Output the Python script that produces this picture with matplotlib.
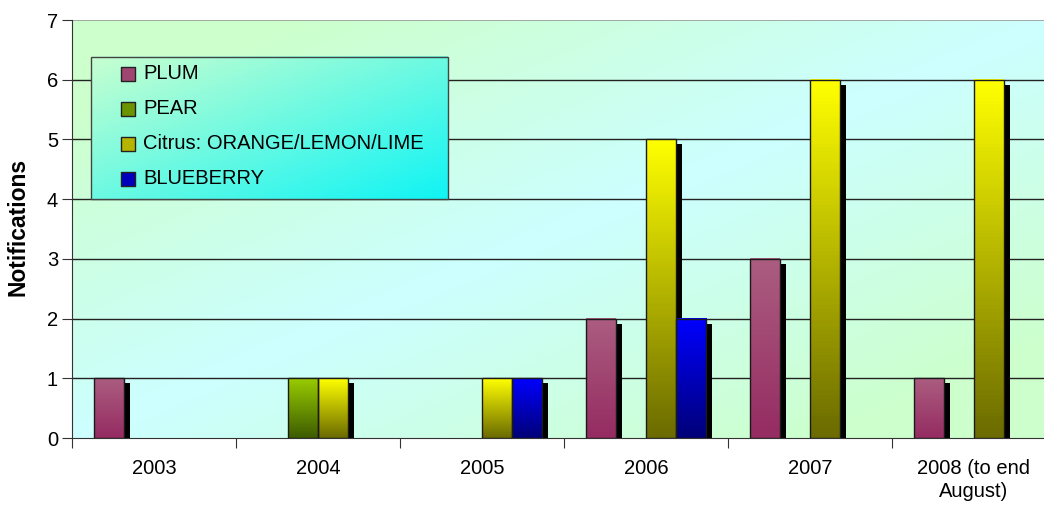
import numpy as np
import matplotlib
matplotlib.use("Agg")
import matplotlib.pyplot as plt
from matplotlib.colors import LinearSegmentedColormap, to_rgb
from matplotlib.patches import Rectangle
from matplotlib.transforms import offset_copy

plt.rcParams.update({"font.family": ["Liberation Sans", "DejaVu Sans"], "font.size": 14})

categories = ["2003", "2004", "2005", "2006", "2007", "2008 (to end\nAugust)"]
series_names = ["PLUM", "PEAR", "Citrus: ORANGE/LEMON/LIME", "BLUEBERRY"]
plum = [1, 0, 0, 2, 3, 1]
pear = [0, 1, 0, 0, 0, 0]
citrus = [0, 1, 1, 5, 6, 6]
blueberry = [0, 0, 1, 2, 0, 0]
values = [plum, pear, citrus, blueberry]

# (top colour, bottom colour) of each series' vertical gradient
grads = [("#ab5d80", "#952c62"), ("#99cc00", "#3d5c00"),
         ("#ffff00", "#6b6b00"), ("#0000ff", "#000078")]

fig = plt.figure(figsize=(10.44, 5.09), dpi=100)
# plot area runs a little past the right edge of the picture, as in the original
ax = fig.add_axes([72 / 1044, 71 / 509, 984 / 1044, 418 / 509])

# plot-area background: green corners, cyan diagonal band
gx, gy = np.meshgrid(np.linspace(0, 1, 300), np.linspace(1, 0, 200))
t = np.clip(np.abs(gx - gy) * 1.3, 0, 1)[..., None]
bg = (1 - t) * np.array(to_rgb("#ccffff")) + t * np.array(to_rgb("#ccffcc"))
ax.imshow(bg, extent=(0, 1, 0, 1), transform=ax.transAxes, aspect="auto", zorder=0)

for yv in range(1, 7):
    ax.axhline(yv, color="#222222", lw=1.0, zorder=1)
ax.axhline(7, color="#999999", lw=1.2, zorder=1)

w = 30 / 164
shadow_tr = offset_copy(ax.transData, fig=fig, x=6, y=-5, units="dots")
for s, (vals, (ctop, cbot)) in enumerate(zip(values, grads)):
    cmap = LinearSegmentedColormap.from_list(f"g{s}", [cbot, ctop])
    for i, v in enumerate(vals):
        if v == 0:
            continue
        x0 = i + 0.5 - 2 * w + s * w
        ax.add_patch(Rectangle((x0, 0), w, v, transform=shadow_tr,
                               fc="black", ec="none", zorder=2))
        ax.imshow(np.linspace(1, 0, 100)[:, None], cmap=cmap, vmin=0, vmax=1,
                  extent=(x0, x0 + w, 0, v), aspect="auto", zorder=3)
        ax.add_patch(Rectangle((x0, 0), w, v, fc="none", ec="#1a1a1a",
                               lw=1.0, zorder=4))

ax.set_xlim(0, len(categories))
ax.set_ylim(0, 7)

# axes styling
for side in ["top", "right"]:
    ax.spines[side].set_visible(False)
ax.spines["left"].set_color("#333333")
ax.spines["bottom"].set_color("#333333")

ax.set_yticks(range(0, 8))
ax.tick_params(axis="y", direction="out", length=7, labelsize=14.5, pad=3,
               color="#333333")
ax.set_xticks(range(0, len(categories) + 1))
ax.set_xticklabels([])
ax.tick_params(axis="x", which="major", direction="out", length=7, color="#333333")
ax.set_xticks([i + 0.5 for i in range(len(categories))], minor=True)
ax.set_xticklabels(categories, minor=True, fontsize=14.5, linespacing=1.3)
ax.tick_params(axis="x", which="minor", length=0, pad=15)
fig.text(18 / 1044, 1 - 227 / 509, "Notifications", rotation=90, ha="center",
         va="center", fontsize=16.5, fontweight="bold")

# legend box with diagonal gradient
lx0, lx1, ly0, ly1 = 0.0193, 0.382, 0.572, 0.912
lgx, lgy = np.meshgrid(np.linspace(0, 1, 200), np.linspace(1, 0, 100))
lt = np.clip((lgx + (1 - lgy)) / 2, 0, 1)[..., None]
lbg = (1 - lt) * np.array(to_rgb("#c8ffd0")) + lt * np.array(to_rgb("#10f4f4"))
ax.imshow(lbg, extent=(lx0, lx1, ly0, ly1), transform=ax.transAxes,
          aspect="auto", zorder=5)
ax.add_patch(Rectangle((lx0, ly0), lx1 - lx0, ly1 - ly0, transform=ax.transAxes,
                       fc="none", ec="#444444", lw=1.0, zorder=6))
for k, (name, (ctop, cbot)) in enumerate(zip(series_names, grads)):
    yy = 0.871 - k * 0.0835
    mid = 0.5 * (np.array(to_rgb(ctop)) + np.array(to_rgb(cbot)))
    ax.scatter([0.0569], [yy], transform=ax.transAxes, marker="s", s=90,
               color=mid, edgecolors="#222222", linewidths=1.0, zorder=7)
    ax.text(0.0722, yy, name, transform=ax.transAxes, va="center", ha="left",
            fontsize=14.5, zorder=7)

fig.savefig("out.png", dpi=100)
